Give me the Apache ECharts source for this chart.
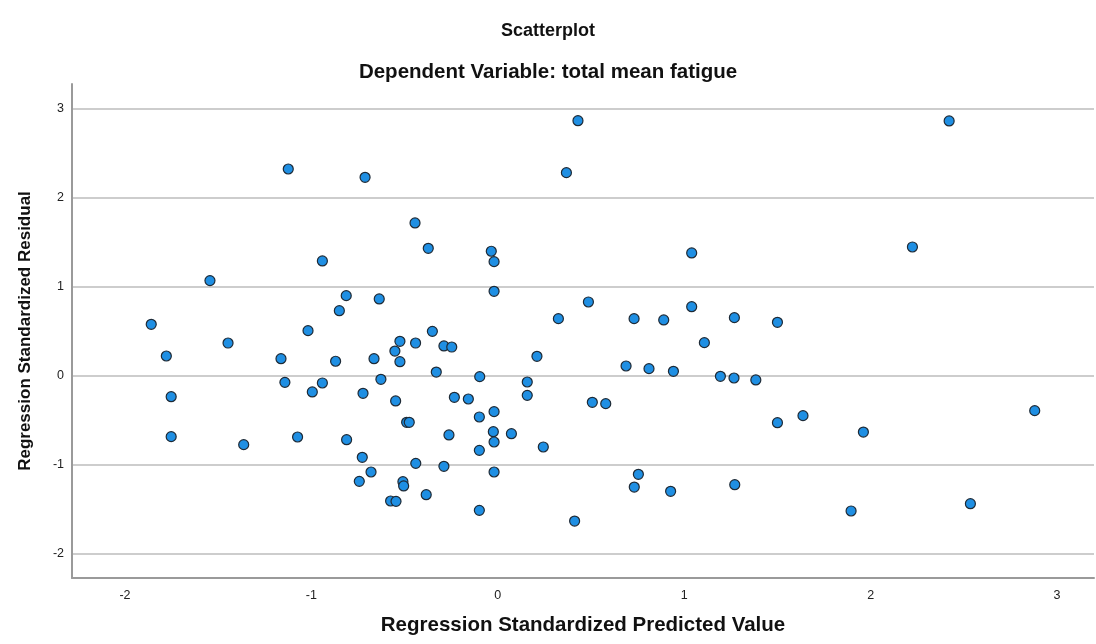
<!DOCTYPE html>
<html>
<head>
<meta charset="utf-8">
<script src="https://cdn.jsdelivr.net/npm/echarts@6/dist/echarts.min.js"></script>
<style>
  html, body { margin: 0; padding: 0; background: #ffffff; }
  #chart { width: 1096px; height: 644px; }
</style>
</head>
<body>
<div id="chart"></div>
<script>
// Regression standardized predicted values (x) and standardized residuals (y)
const predicted = [
  -1.124, -0.712, -0.444, -0.941, -1.544, -0.813, -0.636, -0.850, -1.859, -1.018,
   0.430,  0.368, -0.373, -0.035, -0.020,  1.040, -0.020,  0.486,  0.325,  0.731,
   0.890,  1.040,  1.269, -0.351,  2.421,  2.224,  1.500, -1.447, -1.778, -1.163,
  -0.870, -0.664, -0.552, -0.525, -0.525, -0.441, -1.142, -0.941, -0.995, -0.627,
  -0.723, -0.548, -0.489, -0.475, -1.752, -1.752, -1.363, -1.074, -0.811, -0.727,
  -0.680, -0.743, -0.509, -0.505, -0.575, -0.546, -0.440, -0.289, -0.247,  0.210,
  -0.330, -0.097,  0.158,  0.158,  0.688,  0.811,  0.942,  1.108,  1.194,  1.267,
   1.384, -0.233, -0.158,  0.507,  0.579, -0.099, -0.020, -0.024, -0.020, -0.262,
   0.073,  0.244, -0.099, -0.289, -0.020, -0.384, -0.099,  0.412,  0.754,  0.732,
   0.927,  1.271,  1.500,  1.637,  1.961,  2.880,  1.895,  2.535
];
const residual = [
   2.321,  2.228,  1.715,  1.288,  1.067,  0.898,  0.861,  0.729,  0.576,  0.505,
   2.864,  2.280,  1.430,  1.397,  1.280,  1.378,  0.947,  0.827,  0.640,  0.640,
   0.625,  0.774,  0.651,  0.497,  2.861,  1.445,  0.599,  0.366,  0.220,  0.190,
   0.161,  0.190,  0.276,  0.385,  0.156,  0.366, -0.076, -0.083, -0.184, -0.042,
  -0.199, -0.285, -0.525, -0.525, -0.237, -0.686, -0.776, -0.690, -0.720, -0.918,
  -1.083, -1.188, -1.192, -1.240, -1.409, -1.413, -0.986,  0.333,  0.321,  0.217,
   0.040, -0.012, -0.072, -0.222,  0.108,  0.078,  0.048,  0.370, -0.008, -0.027,
  -0.049, -0.244, -0.263, -0.300, -0.315, -0.465, -0.405, -0.630, -0.746, -0.667,
  -0.653, -0.802, -0.840, -1.019, -1.083, -1.338, -1.514, -1.634, -1.109, -1.252,
  -1.300, -1.226, -0.529, -0.450, -0.634, -0.394, -1.521, -1.439
];
const xRange = [-2.284, 3.198];
const yRange = [-2.274, 3.276];
const titleText = 'Scatterplot';
const subtitleText = 'Dependent Variable: total mean fatigue';
const xName = 'Regression Standardized Predicted Value';
const yName = 'Regression Standardized Residual';

const points = predicted.map((v, i) => [v, residual[i]]);
const FONT = '"Liberation Sans", Arial, sans-serif';

const chart = echarts.init(document.getElementById('chart'), null, { renderer: 'canvas' });
chart.setOption({
  backgroundColor: '#ffffff',
  animation: false,
  title: [
    { text: titleText, left: 'center', top: 17,
      textStyle: { fontFamily: FONT, fontSize: 18, fontWeight: 'bold', color: '#111' } },
    { text: subtitleText, left: 'center', top: 57,
      textStyle: { fontFamily: FONT, fontSize: 20.5, fontWeight: 'bold', color: '#111' } }
  ],
  grid: { left: 72, right: 2, top: 84, bottom: 66, containLabel: false },
  xAxis: {
    type: 'value',
    min: xRange[0], max: xRange[1],
    minInterval: 1, maxInterval: 1,
    name: xName, nameLocation: 'middle', nameGap: 37,
    nameTextStyle: { fontFamily: FONT, fontSize: 20.5, fontWeight: 'bold', color: '#111' },
    axisLine: { show: true, onZero: false, lineStyle: { color: '#9a9a9a', width: 2 } },
    axisTick: { show: false },
    axisLabel: { showMinLabel: false, showMaxLabel: false, margin: 11,
      fontFamily: FONT, fontSize: 12.5, color: '#222' },
    splitLine: { show: false }
  },
  yAxis: {
    type: 'value',
    min: yRange[0], max: yRange[1],
    minInterval: 1, maxInterval: 1,
    name: yName, nameLocation: 'middle', nameGap: 38,
    nameTextStyle: { fontFamily: FONT, fontSize: 17, fontWeight: 'bold', color: '#111' },
    axisLine: { show: true, onZero: false, lineStyle: { color: '#9a9a9a', width: 2 } },
    axisTick: { show: false },
    axisLabel: { showMinLabel: false, showMaxLabel: false, margin: 8,
      fontFamily: FONT, fontSize: 12.5, color: '#222' },
    splitLine: { show: true, showMinLine: false, showMaxLine: false,
      lineStyle: { color: '#cdcdcd', width: 2 } }
  },
  series: [{
    type: 'scatter',
    data: points,
    symbol: 'circle',
    symbolSize: 10,
    itemStyle: { color: '#1f8fe3', borderColor: '#1e2a36', borderWidth: 1.2, opacity: 1 }
  }]
});
</script>
</body>
</html>
